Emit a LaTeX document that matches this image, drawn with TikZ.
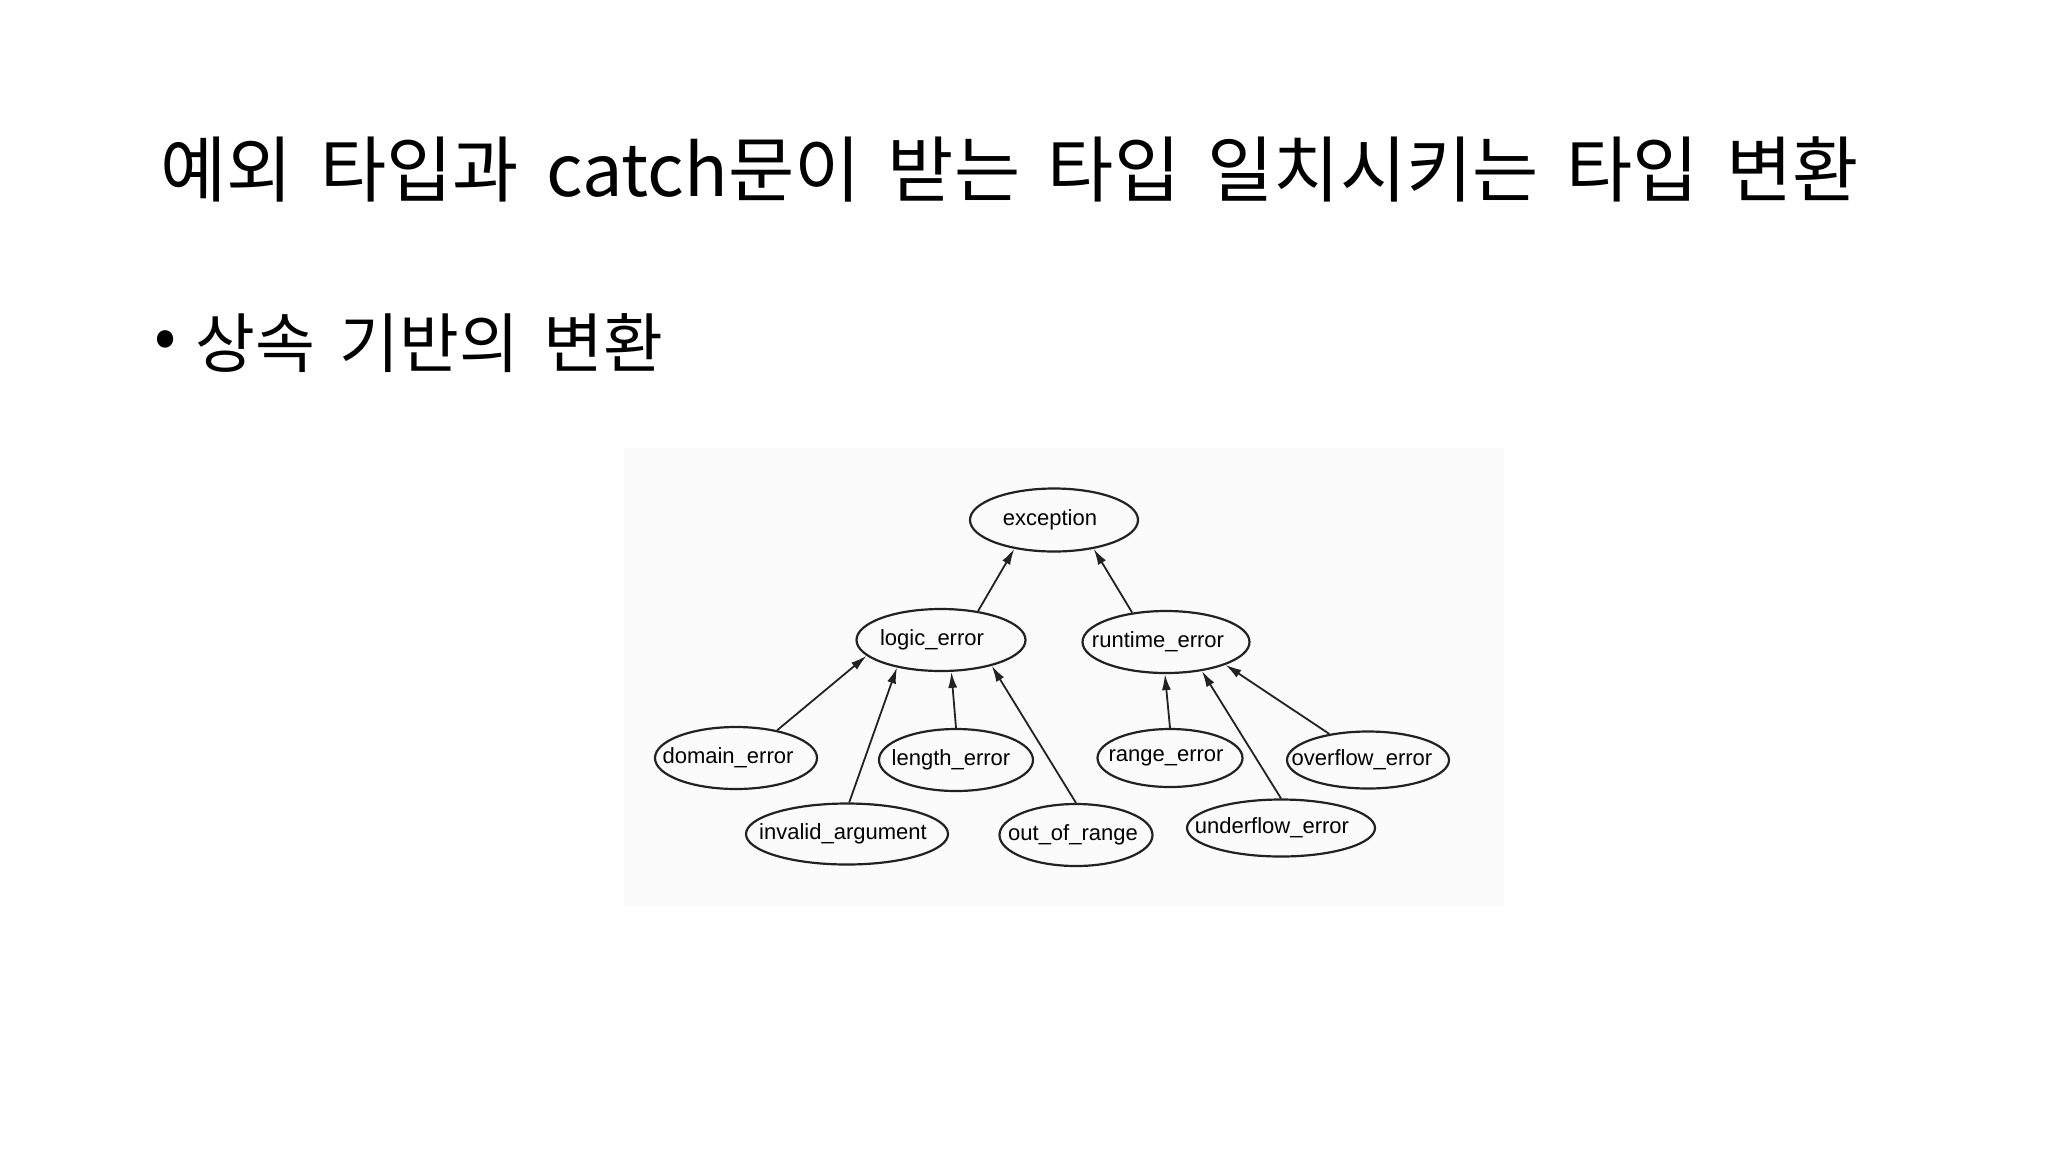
\documentclass[tikz,border=0pt]{standalone}
\usepackage{fontspec}
\setmainfont{Noto Sans CJK KR}
\newfontfamily\titlefont[WordSpace=1.6]{Noto Sans CJK KR}
\newfontfamily\itemfont[WordSpace=1.7]{Noto Sans CJK KR}
\newfontfamily\lblfont{Liberation Sans}
\usetikzlibrary{shapes.geometric, arrows.meta}
\definecolor{scan-gray}{HTML}{FBFBFB}
\definecolor{ink}{HTML}{222222}
% label without width, so the ellipse keeps its own size (optional shift in pt)
\newcommand{\lbl}[2][0]{\makebox[0pt][c]{\hspace*{#1pt}\hspace*{#1pt}#2}}

\begin{document}
\begin{tikzpicture}[x=1pt, y=-1pt, >={Latex[length=16pt,width=9pt]},
	cls/.style 2 args={ellipse, draw=ink, line width=2.2pt, inner sep=0pt, minimum width=#1, minimum height=#2, font=\lblfont\fontsize{22pt}{24pt}\selectfont}]
	\fill[white] (0,0) rectangle (2048,1152);
	\useasboundingbox (0,0) rectangle (2048,1152);
	\fill[scan-gray] (623,447) rectangle (1504,906);
	\node[anchor=west, inner sep=0pt, font=\titlefont\fontsize{72pt}{84pt}\selectfont] (title) at (160,169) {예외 타입과 catch문이 받는 타입 일치시키는 타입 변환};
	\node[inner sep=0pt, font=\itemfont\fontsize{65pt}{72pt}\selectfont] (dot) at (166,345) {•};
	\node[anchor=west, inner sep=0pt, font=\itemfont\fontsize{65pt}{72pt}\selectfont] (bullet) at (195,343) {상속 기반의 변환};
	\node[cls={168pt}{63pt}] (exc) at (1054,520) {\lbl[-4]{exception}};
	\node[cls={169pt}{62pt}] (logic) at (941,640) {\lbl[-9]{logic\_error}};
	\node[cls={167pt}{62pt}] (runtime) at (1166,642) {\lbl[-8]{runtime\_error}};
	\node[cls={162pt}{62pt}] (domain) at (736,758) {\lbl[-8]{domain\_error}};
	\node[cls={154pt}{62pt}] (length) at (956,760) {\lbl[-5]{length\_error}};
	\node[cls={202pt}{61pt}] (invalid) at (847,834) {\lbl[-4]{invalid\_argument}};
	\node[cls={153pt}{62pt}] (outrange) at (1076,835) {\lbl[-3]{out\_of\_range}};
	\node[cls={145pt}{58pt}] (range) at (1170,758) {\lbl[-4]{range\_error}};
	\node[cls={162pt}{57pt}] (overflow) at (1368,760) {\lbl[-6]{overflow\_error}};
	\node[cls={188pt}{57pt}] (underflow) at (1281,828) {\lbl[-9]{underflow\_error}};
	\draw[line width=1.8pt, ink]
	(logic.38) edge[->] (exc.216)
	(runtime.139.5) edge[->] (exc.324)
	(domain.34) edge[->] (logic.192)
	(invalid.86) edge[->] (logic.212)
	(length.90) edge[->] (logic.288)
	(outrange.90) edge[->] (logic.333)
	(range.90) edge[->] (runtime.268)
	(underflow.90) edge[->] (runtime.321)
	(overflow.146) edge[->] (runtime.339);
\end{tikzpicture}
\end{document}
